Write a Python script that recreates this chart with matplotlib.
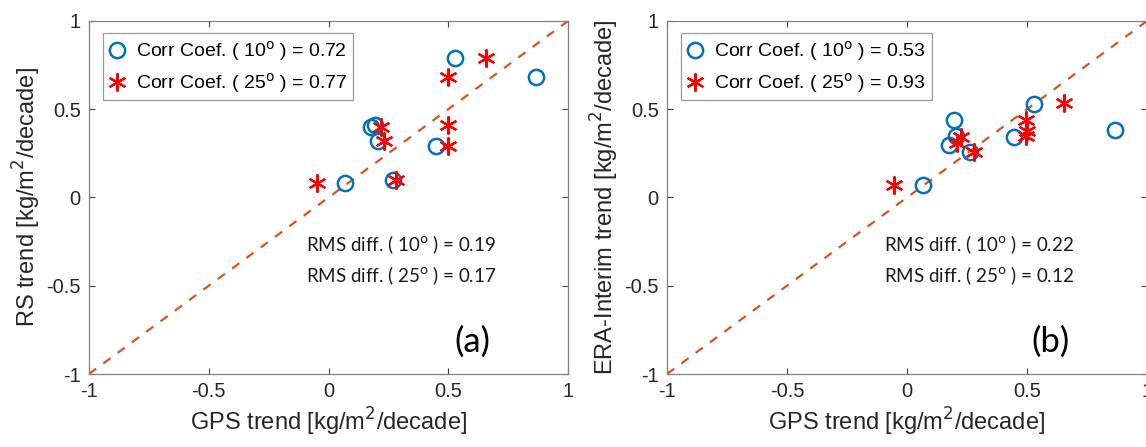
import matplotlib
matplotlib.use('Agg')
import matplotlib.pyplot as plt

# GPS vs RS trends (kg/m2/decade)
gps_rs_10 = [0.07, 0.53, 0.865, 0.178, 0.196, 0.205, 0.449, 0.271]
rs_10 = [0.08, 0.79, 0.68, 0.40, 0.41, 0.32, 0.29, 0.10]
gps_rs_25 = [0.657, 0.50, 0.22, 0.23, 0.50, 0.50, 0.28, -0.05]
rs_25 = [0.79, 0.68, 0.40, 0.32, 0.41, 0.29, 0.10, 0.08]

# GPS vs ERA-Interim trends
gps_era_10 = [0.528, 0.196, 0.203, 0.173, 0.263, 0.444, 0.867, 0.067]
era_10 = [0.53, 0.44, 0.35, 0.30, 0.26, 0.34, 0.38, 0.07]
gps_era_25 = [0.655, 0.496, 0.50, 0.496, 0.224, 0.21, 0.28, -0.054]
era_25 = [0.535, 0.44, 0.375, 0.35, 0.34, 0.31, 0.26, 0.07]

corr_a = [0.72, 0.77]
rms_a = [0.19, 0.17]
corr_b = [0.53, 0.93]
rms_b = [0.22, 0.12]

W, H = 1146, 447
fig = plt.figure(figsize=(W / 100, H / 100), dpi=100)

arial = 'Liberation Sans'
calibri = 'Lato'
star = (6, 2, 0)


def panel(rect, x10, y10, x25, y25, corr, rms, ylabel, tag):
    ax = fig.add_axes(rect)
    ax.plot([-1, 1], [-1, 1], '--', color='#D95319', lw=1.6, dashes=(4, 4))
    ax.plot(x10, y10, 'o', mfc='none', mec='#0072BD', mew=1.8, ms=11,
            linestyle='none', label='Corr Coef. ( 10$^{\\mathrm{o}}$ ) = %.2f' % corr[0])
    ax.plot(x25, y25, marker=star, color='red', mew=1.6, ms=13,
            linestyle='none', label='Corr Coef. ( 25$^{\\mathrm{o}}$ ) = %.2f' % corr[1])
    ax.set_xlim(-1, 1)
    ax.set_ylim(-1, 1)
    ax.set_xticks([-1, -0.5, 0, 0.5, 1])
    ax.set_yticks([-1, -0.5, 0, 0.5, 1])
    ax.set_xticklabels(['-1', '-0.5', '0', '0.5', '1'])
    ax.set_yticklabels(['-1', '-0.5', '0', '0.5', '1'])
    ax.tick_params(direction='in', length=4, width=0.8, color='#404040',
                   top=True, right=True, labelsize=14.5, pad=6)
    for lab in ax.get_xticklabels() + ax.get_yticklabels():
        lab.set_family(arial)
        lab.set_color('#262626')
    for s in ax.spines.values():
        s.set_color('#808080')
        s.set_linewidth(0.9)
    ax.set_xlabel('GPS trend [kg/m$^2$/decade]', family=arial,
                  fontsize=17, color='#262626', labelpad=3)
    ax.set_ylabel(ylabel, family=arial, fontsize=17, color='#262626', labelpad=2)
    leg = ax.legend(loc='upper left', bbox_to_anchor=(0.03, 0.966),
                    prop={'family': arial, 'size': 14}, frameon=True,
                    fancybox=False, handlelength=0.8, handletextpad=0.6,
                    borderpad=0.3, labelspacing=0.4, borderaxespad=0)
    leg.get_frame().set_edgecolor('#808080')
    leg.get_frame().set_linewidth(0.9)
    for i, v in enumerate(rms):
        deg = '10' if i == 0 else '25'
        ax.text(0.453, 0.365 - i * 0.085,
                'RMS diff. ( %s$^{\\mathrm{o}}$ ) = %.2f' % (deg, v),
                transform=ax.transAxes, family=calibri, fontsize=13.5,
                color='#1a1a1a', va='center')
    ax.text(0.80, 0.09, tag, transform=ax.transAxes, family=calibri,
            fontsize=25, color='black', ha='center', va='center')
    return ax


panel([89 / W, 73 / H, 479 / W, 353 / H], gps_rs_10, rs_10, gps_rs_25, rs_25,
      corr_a, rms_a, 'RS trend [kg/m$^2$/decade]', '(a)')
panel([667 / W, 73 / H, 480 / W, 353 / H], gps_era_10, era_10, gps_era_25, era_25,
      corr_b, rms_b, 'ERA-Interim trend [kg/m$^2$/decade]', '(b)')

fig.savefig('out.png', dpi=100)
